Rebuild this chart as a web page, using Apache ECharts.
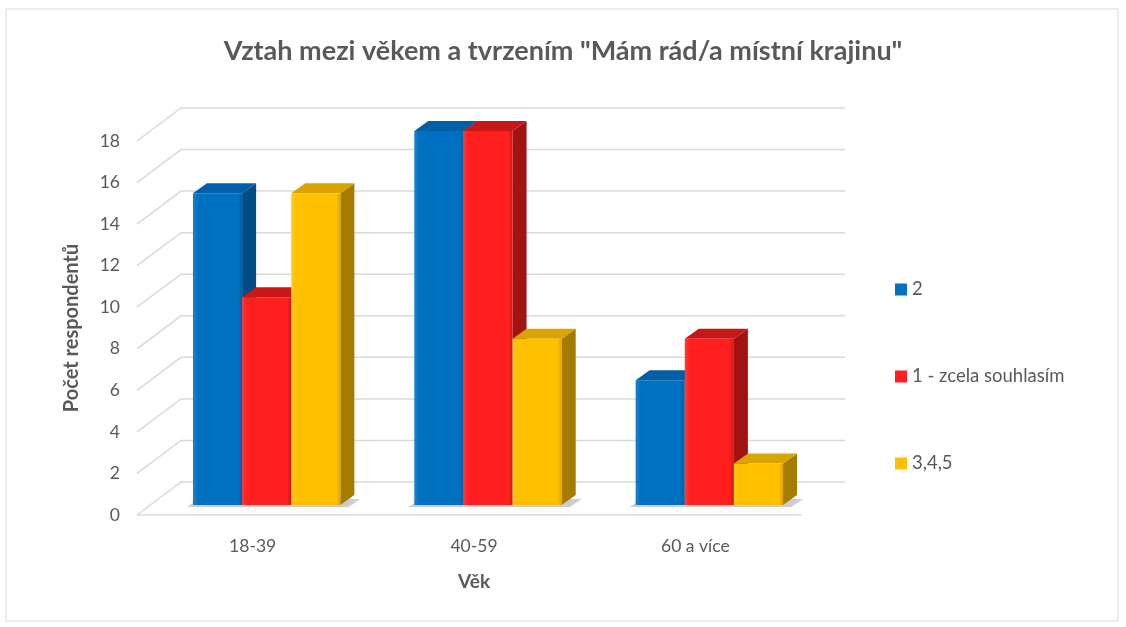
<!DOCTYPE html>
<html lang="cs">
<head>
<meta charset="UTF-8">
<title>Vztah mezi věkem a tvrzením</title>
<script src="https://cdn.jsdelivr.net/npm/echarts@6/dist/echarts.min.js"></script>
<style>
  html, body { margin: 0; padding: 0; background: #fff; }
  #main { width: 1126px; height: 627px; }
</style>
</head>
<body>
<div id="main"></div>
<script>
var categories = ['18-39', '40-59', '60 a více'];
var seriesNames = ['2', '1 - zcela souhlasím', '3,4,5'];
var values2 = [15, 18, 6];
var values1 = [10, 18, 8];
var values345 = [15, 8, 2];
var yTicks = [0, 2, 4, 6, 8, 10, 12, 14, 16, 18];

// front / side / top colours of each series
var palette = [
    { front: '#0070C0', light: '#1b82cf', top: '#005fa6', side: '#004c86' },
    { front: '#FF1F1F', light: '#ff3a3a', top: '#c81717', side: '#a31212' },
    { front: '#FFC000', light: '#ffca24', top: '#d9a300', side: '#a67c00' }
];

// 3d look: back wall offset and bar depth
var WALL_DX = 44, WALL_DY = -33;
var FRONT_X = -5;
var SHIFT_X = 14, SHIFT_Y = -10;
var DEPTH_X = 14, DEPTH_Y = -10;
var BAR_FRAC = 0.222;

var chart = echarts.init(document.getElementById('main'));

function barRenderer(idx) {
    var c = palette[idx];
    return function (params, api) {
        var cat = api.value(0), val = api.value(1);
        var base = api.coord([cat, 0]);
        var top = api.coord([cat, val]);
        var catW = api.size([1, 0])[0];
        var w = catW * BAR_FRAC;
        var x0 = base[0] + SHIFT_X - 1.5 * w + idx * w;
        var x1 = x0 + w;
        var yb = base[1] + SHIFT_Y;
        var yt = top[1] + SHIFT_Y;
        var kids = [];
        if (idx === 0) {
            // soft shadow on the floor behind the group
            kids.push({
                type: 'polygon',
                shape: { points: [[x0 - 6, yb + 2], [x0 + 3 * w + 8, yb + 2], [x0 + 3 * w + DEPTH_X + 6, yb + DEPTH_Y + 4], [x0 + 6, yb + DEPTH_Y + 4]] },
                style: { fill: 'rgba(0,0,0,0.18)', shadowBlur: 8, shadowColor: 'rgba(0,0,0,0.3)' },
                z2: -1
            });
        }
        kids.push(
            {
                type: 'polygon',
                shape: { points: [[x1, yt], [x1 + DEPTH_X, yt + DEPTH_Y], [x1 + DEPTH_X, yb + DEPTH_Y], [x1, yb]] },
                style: { fill: c.side }
            },
            {
                type: 'polygon',
                shape: { points: [[x0, yt], [x1, yt], [x1 + DEPTH_X, yt + DEPTH_Y], [x0 + DEPTH_X, yt + DEPTH_Y]] },
                style: { fill: c.top }
            },
            {
                type: 'rect',
                shape: { x: x0, y: yt, width: w, height: yb - yt },
                style: {
                    fill: new echarts.graphic.LinearGradient(0, 0, 1, 0, [
                        { offset: 0, color: c.light },
                        { offset: 0.1, color: c.front },
                        { offset: 0.92, color: c.front },
                        { offset: 1, color: c.top }
                    ])
                }
            }
        );
        return { type: 'group', children: kids };
    };
}

function wallRenderer(params, api) {
    var v = api.value(1);
    var p = api.coord([0, v]);
    var cs = params.coordSys;
    var xf = cs.x + FRONT_X;
    var pts = [[xf, p[1]], [xf + WALL_DX, p[1] + WALL_DY], [cs.x + cs.width + FRONT_X + WALL_DX, p[1] + WALL_DY]];
    var children = [{
        type: 'polyline',
        shape: { points: pts },
        style: { stroke: '#d9d9d9', lineWidth: 1.5, fill: null }
    }];
    if (v === 0) {
        children.push({
            type: 'line',
            shape: { x1: xf, y1: p[1], x2: cs.x + cs.width + FRONT_X, y2: p[1] },
            style: { stroke: '#d9d9d9', lineWidth: 1.5 }
        });
    }
    return { type: 'group', children: children };
}

var seriesData = [values2, values1, values345];
var series = [{
    type: 'custom',
    name: 'wall',
    silent: true,
    renderItem: wallRenderer,
    data: yTicks.map(function (v) { return [0, v]; }),
    z: 1
}];
seriesData.forEach(function (vals, i) {
    series.push({
        type: 'custom',
        name: seriesNames[i],
        renderItem: barRenderer(i),
        itemStyle: { color: palette[i].front },
        data: vals.map(function (v, k) { return [k, v]; }),
        z: 2
    });
});

chart.setOption({
    animation: false,
    textStyle: { fontFamily: 'Lato' },
    title: {
        text: 'Vztah mezi věkem a tvrzením "Mám rád/a místní krajinu"',
        left: 'center',
        top: 33,
        textStyle: { fontSize: 27, fontWeight: 'bold', color: '#595959', fontFamily: 'Lato' }
    },
    legend: {
        data: seriesNames,
        orient: 'vertical',
        left: 890,
        top: 275,
        itemGap: 68,
        itemWidth: 12,
        itemHeight: 12,
        icon: 'rect',
        textStyle: { fontSize: 18.5, color: '#595959', fontFamily: 'Lato' }
    },
    grid: { left: 142, right: 320, top: 141, bottom: 112 },
    xAxis: {
        type: 'category',
        data: categories,
        name: 'Věk',
        nameLocation: 'middle',
        nameGap: 57,
        nameTextStyle: { fontSize: 19, fontWeight: 'bold', color: '#595959' },
        axisLine: { show: false },
        axisTick: { show: false },
        axisLabel: { fontSize: 17.5, color: '#595959', margin: 22 }
    },
    yAxis: {
        type: 'value',
        min: 0,
        max: 18,
        interval: 2,
        name: 'Počet respondentů',
        nameLocation: 'middle',
        nameGap: 60,
        nameTextStyle: { fontSize: 20, fontWeight: 'bold', color: '#595959' },
        axisLine: { show: false },
        axisTick: { show: false },
        splitLine: { show: false },
        axisLabel: { fontSize: 17.5, color: '#595959', margin: 22 }
    },
    graphic: [{
        type: 'rect',
        shape: { x: 6, y: 9, width: 1112, height: 612 },
        style: { fill: null, stroke: '#d9d9d9', lineWidth: 1 },
        silent: true
    }],
    series: series
});
</script>
</body>
</html>
